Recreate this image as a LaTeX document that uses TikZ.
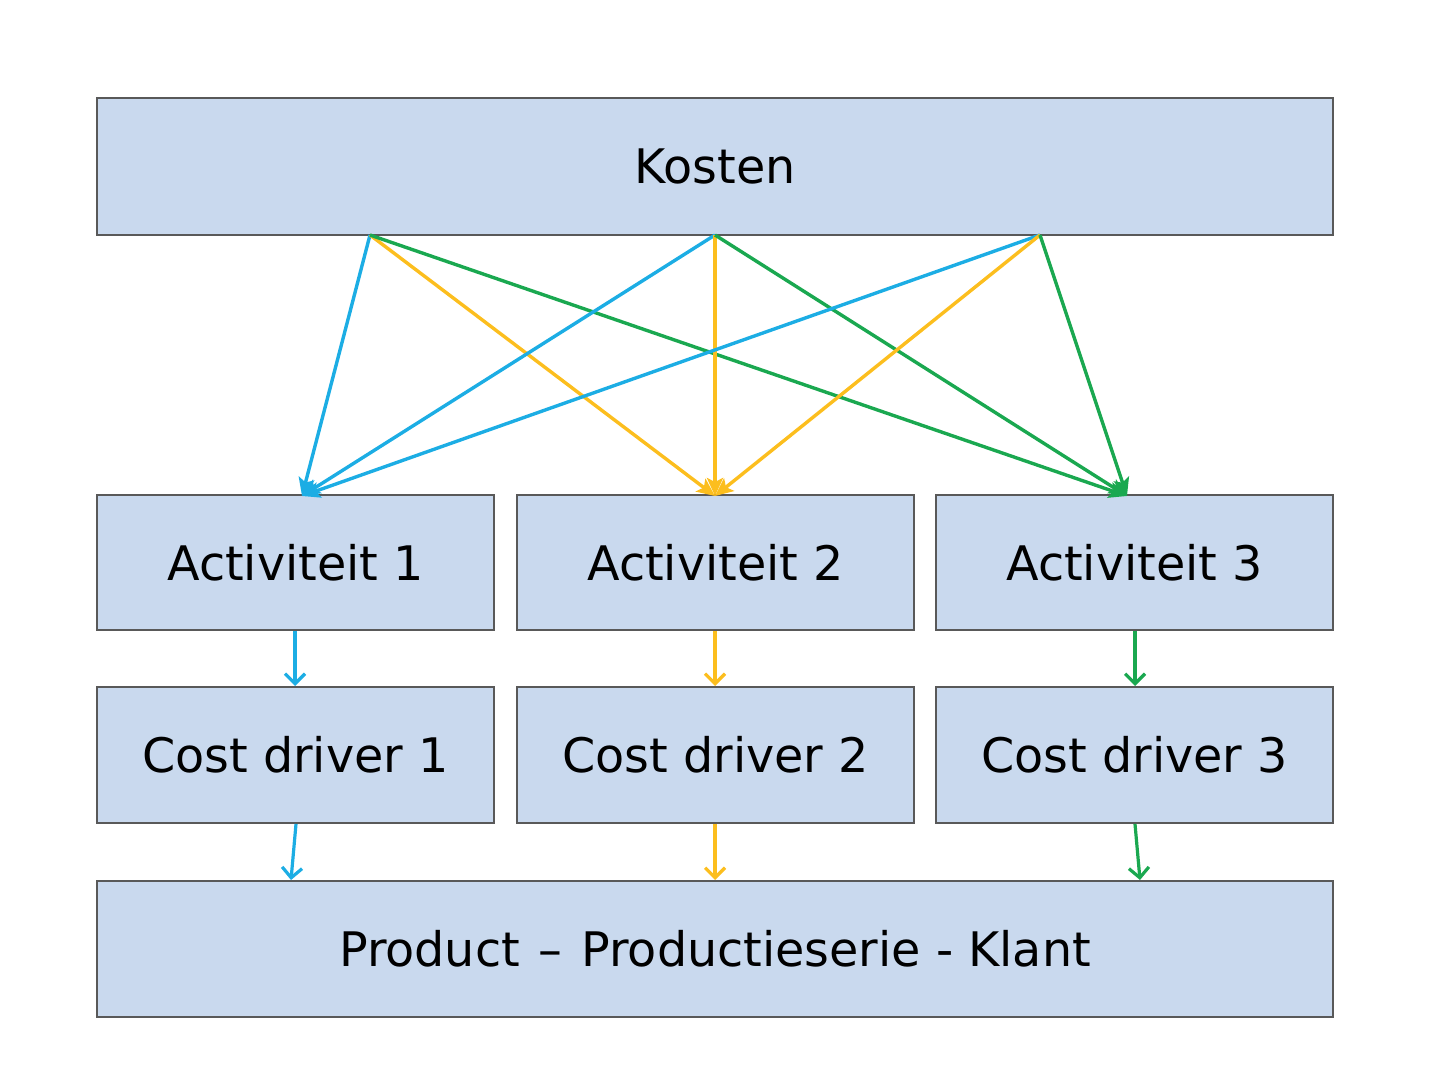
\documentclass[tikz,border=0pt]{standalone}
\usepackage{fontspec}
\setmainfont{DejaVu Sans}
\usetikzlibrary{arrows.meta}
\definecolor{boxfill}{RGB}{201,217,238}
\definecolor{boxline}{RGB}{89,89,89}
\definecolor{cblue}{RGB}{28,173,228}
\definecolor{cyellow}{RGB}{252,190,30}
\definecolor{cgreen}{RGB}{26,168,80}
\tikzset{
  box/.style={draw=boxline, fill=boxfill, line width=1.1pt, inner sep=0pt,
    minimum width=#1, font=\fontsize{23.8}{28}\selectfont, text=black},
  box/.default=198.5pt,
  bigarrow/.style={line width=1.7pt, -{Stealth[length=9pt,width=8pt,inset=2pt]}},
  smallarrow/.style={line width=1.6pt, -{Straight Barb[length=5pt,width=10pt]}},
}
\begin{document}
\begin{tikzpicture}[x=0.5pt,y=-0.5pt]
\useasboundingbox (0,0) rectangle (1440,1080);
\node[box=618pt, minimum height=68.5pt] (kosten) at (715,166.5) {Kosten};
\node[box, minimum height=67.5pt] (a1) at (295.5,562.5) {Activiteit 1};
\node[box, minimum height=67.5pt] (a2) at (715.5,562.5) {Activiteit 2};
\node[box, minimum height=67.5pt] (a3) at (1134.5,562.5) {Activiteit 3};
\node[box, minimum height=68pt] (c1) at (295.5,755) {Cost driver 1};
\node[box, minimum height=68pt] (c2) at (715.5,755) {Cost driver 2};
\node[box, minimum height=68pt] (c3) at (1134.5,755) {Cost driver 3};
\node[box=618pt, minimum height=68pt] (prod) at (715,949) {Product\hspace{0.08em} --\hspace{0.08em} Productieserie - Klant};
% origins and targets
\coordinate (k1) at (370,235);
\coordinate (k2) at (715,235);
\coordinate (k3) at (1040,235);
\coordinate (t1) at (302,496);
\coordinate (t2) at (715,496);
\coordinate (t3) at (1127,496);
\foreach \k in {k1,k2,k3}{
  \draw[bigarrow, cblue] (\k) -- (t1);
  \draw[bigarrow, cyellow] (\k) -- (t2);
  \draw[bigarrow, cgreen] (\k) -- (t3);
}
% small arrows
\coordinate (s1) at (295,631);
\coordinate (s2) at (715,631);
\coordinate (s3) at (1135,631);
\coordinate (e1) at (295,686);
\coordinate (e2) at (715,686);
\coordinate (e3) at (1135,686);
\draw[smallarrow, cblue] (s1) -- (e1);
\draw[smallarrow, cyellow] (s2) -- (e2);
\draw[smallarrow, cgreen] (s3) -- (e3);
\coordinate (u1) at (296,824);
\coordinate (u2) at (715,824);
\coordinate (u3) at (1135,824);
\coordinate (v1) at (291,880);
\coordinate (v2) at (715,880);
\coordinate (v3) at (1140,880);
\draw[smallarrow, cblue] (u1) -- (v1);
\draw[smallarrow, cyellow] (u2) -- (v2);
\draw[smallarrow, cgreen] (u3) -- (v3);
\end{tikzpicture}
\end{document}
